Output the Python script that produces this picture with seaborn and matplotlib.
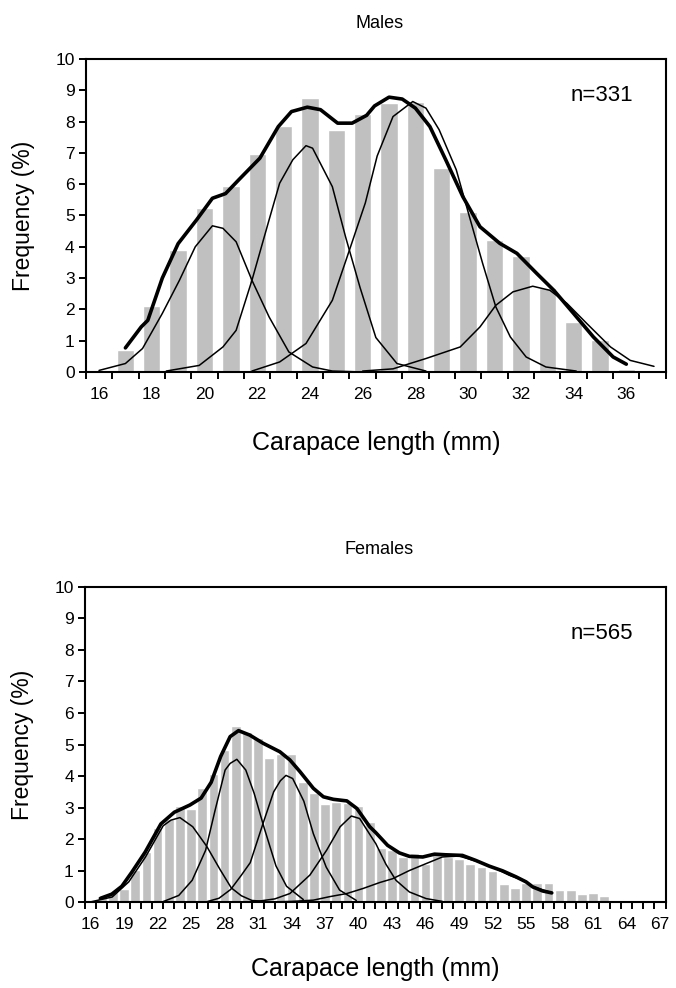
import numpy as np
import pandas as pd
import matplotlib
matplotlib.use("Agg")
import matplotlib.pyplot as plt
import seaborn as sns

# Length-frequency distributions (% of individuals per 1 mm class)
male_len = list(range(16, 38))
male_freq = [0, 0.69, 2.1, 3.9, 5.25, 5.94, 6.97, 7.87, 8.76, 7.74, 8.25,
             8.59, 8.64, 6.53, 5.11, 4.22, 3.70, 2.68, 1.59, 1.01, 0.11, 0]

female_len = list(range(16, 68))
female_freq = [0, 0.18, 0.32, 0.40, 1.01, 1.6, 2.35, 2.65, 3.04, 2.94, 3.62,
               4.06, 4.82, 5.59, 5.39, 5.2, 4.57, 4.7, 4.7, 3.8, 3.45, 3.12,
               3.16, 3.13, 3.04, 2.55, 1.72, 1.64, 1.43, 1.57, 1.2, 1.57, 1.43,
               1.36, 1.2, 1.1, 0.99, 0.56, 0.43, 0.60, 0.62, 0.62, 0.37, 0.37,
               0.25, 0.30, 0.19, 0.06, 0, 0.06, 0.06, 0]

# Fitted curves (males)
m_total_x = [17.0, 17.6, 17.85, 18.4, 19.0, 19.7, 20.3, 20.8, 21.3, 22.1, 22.8,
             23.3, 23.9, 24.4, 25.05, 25.6, 26.15, 26.45, 27.0, 27.5, 28.0,
             28.55, 29.15, 29.8, 30.45, 31.2, 31.85, 32.6, 33.25, 34.0, 34.75,
             35.5, 36.0]
m_total_y = [0.77, 1.44, 1.65, 3.0, 4.1, 4.86, 5.55, 5.7, 6.14, 6.83, 7.84,
             8.32, 8.46, 8.38, 7.95, 7.95, 8.2, 8.5, 8.78, 8.72, 8.43,
             7.84, 6.78, 5.6, 4.64, 4.11, 3.79, 3.15, 2.61, 1.87, 1.12,
             0.48, 0.25]
m_c1_x = [16.0, 17.0, 17.65, 18.4, 19.05, 19.65, 20.3, 20.7, 21.2, 21.8, 22.45,
          23.2, 24.1, 24.85, 26.0]
m_c1_y = [0.05, 0.27, 0.75, 1.87, 2.93, 4.0, 4.67, 4.59, 4.16, 2.93, 1.76,
          0.64, 0.16, 0.03, 0.0]
m_c2_x = [18.55, 19.8, 20.7, 21.2, 21.8, 22.45, 22.85, 23.35, 23.85, 24.1,
          24.85, 25.35, 25.9, 26.5, 27.3, 28.4]
m_c2_y = [0.03, 0.21, 0.8, 1.33, 2.93, 4.86, 6.03, 6.78, 7.23, 7.15,
          5.92, 4.32, 2.7, 1.1, 0.27, 0.03]
m_c3_x = [21.8, 22.85, 23.85, 24.85, 25.5, 26.1, 26.55, 27.15, 27.9, 28.4,
          28.9, 29.55, 30.05, 30.55, 31.05, 31.6, 32.2, 32.95, 34.1]
m_c3_y = [0.03, 0.32, 0.91, 2.29, 3.9, 5.4, 6.9, 8.16, 8.64, 8.43,
          7.74, 6.46, 4.96, 3.47, 2.08, 1.12, 0.48, 0.16, 0.03]
m_c4_x = [26.0, 27.15, 28.4, 29.7, 30.45, 31.05, 31.7, 32.45, 33.1, 33.75,
          34.5, 35.4, 36.15, 37.05]
m_c4_y = [0.03, 0.1, 0.43, 0.8, 1.44, 2.13, 2.56, 2.74, 2.61, 2.19,
          1.55, 0.8, 0.37, 0.18]

# Fitted curves (females)
f_total_x = [16.9, 17.9, 18.8, 19.7, 20.9, 22.3, 23.5, 24.9, 25.9, 26.8, 27.65,
             28.5, 29.25, 30.25, 31.45, 32.95, 33.85, 34.75, 35.95, 36.85,
             37.75, 38.95, 39.85, 41.0, 41.55, 42.6, 43.65, 44.55, 45.75, 46.8,
             47.8, 49.3, 50.5, 51.7, 52.9, 54.1, 55.0, 55.6, 56.5, 57.3]
f_total_y = [0.12, 0.25, 0.5, 0.95, 1.59, 2.48, 2.85, 3.08, 3.3, 3.8, 4.62,
             5.25, 5.44, 5.3, 5.04, 4.77, 4.51, 4.14, 3.61, 3.34,
             3.26, 3.21, 2.97, 2.39, 2.2, 1.8, 1.56, 1.45, 1.43, 1.52,
             1.5, 1.48, 1.32, 1.14, 0.99, 0.8, 0.64, 0.48, 0.35, 0.29]
f_c1_x = [15.95, 17.94, 19.42, 20.92, 22.5, 23.2, 24.0, 25.15, 26.4, 27.6,
          28.6, 29.5, 30.45, 31.6]
f_c1_y = [0.0, 0.16, 0.64, 1.43, 2.42, 2.6, 2.68, 2.39, 1.77, 1.03,
          0.45, 0.2, 0.05, 0.02]
f_c2_x = [22.4, 23.9, 25.1, 26.3, 27.15, 28.05, 28.5, 29.1, 29.9, 30.65,
          31.55, 32.6, 33.55, 35.05]
f_c2_y = [0.0, 0.21, 0.69, 1.64, 2.91, 4.19, 4.4, 4.53, 4.19, 3.45,
          2.35, 1.15, 0.5, 0.08]
f_c3_x = [26.3, 27.5, 28.55, 29.5, 30.3, 31.45, 32.4, 33.0, 33.5, 34.1, 35.1,
          35.95, 37.1, 38.3, 39.8]
f_c3_y = [0.0, 0.12, 0.4, 0.85, 1.25, 2.5, 3.5, 3.85, 4.02, 3.92, 3.2,
          2.17, 1.11, 0.38, 0.05]
f_c4_x = [30.5, 32.5, 33.85, 35.65, 37.15, 38.35, 39.35, 40.1, 41.0, 41.55,
          42.45, 43.35, 44.55, 46.05, 47.5]
f_c4_y = [0.0, 0.1, 0.27, 0.86, 1.65, 2.39, 2.73, 2.65, 2.15, 1.85,
          1.2, 0.69, 0.32, 0.11, 0.02]
f_c5_x = [32.0, 34.0, 35.95, 37.4, 38.95, 40.4, 41.9, 43.05, 44.55, 46.05,
          47.5, 49.0, 50.5, 52.0, 53.5, 54.7, 55.65, 57.1]
f_c5_y = [0.0, 0.02, 0.06, 0.17, 0.27, 0.43, 0.62, 0.74, 1.0, 1.22,
          1.43, 1.46, 1.30, 1.11, 0.85, 0.69, 0.48, 0.32]

sns.set_style("ticks")
plt.rcParams['font.family'] = ['Liberation Sans', 'DejaVu Sans']
plt.rcParams['text.color'] = 'black'
plt.rcParams['axes.labelcolor'] = 'black'
plt.rcParams['xtick.color'] = 'black'
plt.rcParams['ytick.color'] = 'black'


def draw_panel(ax, lengths, freqs, total, comps, label_step, bar_w, title,
               n_text, title_y, n_y, xlab_y):
    df = pd.DataFrame({'length': lengths, 'freq': freqs})
    sns.barplot(data=df, x='length', y='freq', native_scale=True,
                color='#c0c0c0', saturation=1, width=bar_w, errorbar=None,
                ax=ax, zorder=1)
    for cx, cy in comps:
        sns.lineplot(x=cx, y=cy, color='black', linewidth=1.1, sort=False,
                     estimator=None, ax=ax, zorder=3)
    sns.lineplot(x=total[0], y=total[1], color='black', linewidth=2.6,
                 sort=False, estimator=None, ax=ax, zorder=4)

    lo, hi = lengths[0] - 0.5, lengths[-1] + 0.5
    ax.set_xlim(lo, hi)
    ax.set_ylim(0, 10)
    ax.set_yticks(range(0, 11))
    # tick marks at class boundaries, labels at class centres
    ax.set_xticks(np.arange(lo, hi + 0.01, 1.0), minor=True)
    ax.set_xticks(lengths[::label_step])
    ax.set_xticklabels([str(v) for v in lengths[::label_step]])
    ax.tick_params(axis='x', which='major', length=0, labelsize=12.5, pad=11)
    ax.tick_params(axis='x', which='minor', direction='out', length=5,
                   width=1.4, color='black')
    ax.tick_params(axis='y', direction='out', length=5, width=1.4,
                   labelsize=12.5, pad=3, color='black')
    for sp in ax.spines.values():
        sp.set_visible(True)
        sp.set_linewidth(1.5)
        sp.set_color('black')

    ax.set_xlabel('Carapace length (mm)', fontsize=18, va='center')
    ax.xaxis.set_label_coords(0.5, xlab_y)
    ax.set_ylabel('Frequency (%)', fontsize=16.5, va='center')
    ax.yaxis.set_label_coords(-0.107, 0.5)
    ax.set_title(title, fontsize=13, y=title_y, va='center', x=0.507)
    ax.text(0.89, n_y, n_text, transform=ax.transAxes, ha='center',
            va='center', fontsize=16)


fig = plt.figure(figsize=(6.76, 9.88), dpi=100)
ax1 = fig.add_axes([0.127, 0.6235, 0.858, 0.3168])
ax2 = fig.add_axes([0.1257, 0.087, 0.859, 0.3189])

draw_panel(ax1, male_len, male_freq, (m_total_x, m_total_y),
           [(m_c1_x, m_c1_y), (m_c2_x, m_c2_y), (m_c3_x, m_c3_y),
            (m_c4_x, m_c4_y)],
           2, 0.66, 'Males', 'n=331', 1.086, 0.882, -0.228)
draw_panel(ax2, female_len, female_freq, (f_total_x, f_total_y),
           [(f_c1_x, f_c1_y), (f_c2_x, f_c2_y), (f_c3_x, f_c3_y),
            (f_c4_x, f_c4_y), (f_c5_x, f_c5_y)],
           3, 0.87, 'Females', 'n=565', 1.092, 0.852, -0.214)

fig.savefig('out.png', dpi=100)
